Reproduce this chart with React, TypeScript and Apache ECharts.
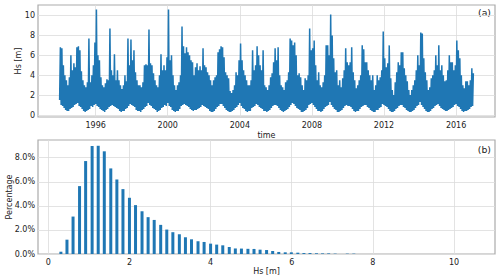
import { useEffect, useRef } from 'react';
import * as echarts from 'echarts';

// ---- Data ----
const startYear = 1994;

// monthly maximum Hs [m], one row per year (Jan..Dec), 1994..2016
const hsMonthlyMax = [
  [6.8, 6.7, 5.0, 4.0, 3.5, 3.0, 3.8, 6.0, 4.5, 5.2, 4.8, 6.8], // 1994
  [6.9, 6.5, 4.4, 3.5, 3.0, 2.8, 3.3, 7.7, 3.3, 4.0, 5.0, 7.3], // 1995
  [10.6, 6.0, 5.5, 3.8, 3.0, 2.8, 3.2, 3.6, 3.5, 8.7, 4.5, 4.0], // 1996
  [6.1, 3.5, 4.5, 3.5, 3.0, 2.6, 3.0, 4.0, 3.4, 7.7, 5.0, 7.6], // 1997
  [5.5, 6.5, 4.3, 3.5, 3.0, 3.0, 2.8, 3.3, 5.0, 5.1, 5.0, 8.6], // 1998
  [5.2, 5.0, 4.2, 3.5, 3.0, 2.8, 4.0, 6.1, 4.5, 5.0, 4.5, 5.8], // 1999
  [10.6, 5.5, 6.0, 4.0, 3.0, 2.5, 3.0, 3.3, 4.0, 8.9, 6.9, 6.2], // 2000
  [6.8, 6.3, 6.0, 5.5, 5.3, 4.0, 4.8, 5.2, 4.5, 4.9, 4.5, 6.7], // 2001
  [5.0, 4.8, 4.3, 4.0, 3.5, 3.0, 3.5, 3.8, 4.0, 6.3, 6.6, 6.9], // 2002
  [6.8, 5.8, 4.3, 4.0, 3.7, 2.4, 2.2, 2.5, 3.0, 4.3, 4.0, 5.5], // 2003
  [7.2, 5.5, 4.5, 4.0, 3.5, 3.0, 3.0, 3.5, 6.5, 4.5, 5.0, 6.9], // 2004
  [6.0, 5.0, 4.5, 6.5, 3.0, 2.8, 2.5, 3.0, 3.8, 4.2, 5.3, 6.7], // 2005
  [5.5, 6.8, 4.0, 3.0, 2.8, 2.5, 3.3, 3.5, 4.3, 7.7, 7.5, 7.0], // 2006
  [7.3, 6.0, 4.0, 4.2, 3.8, 3.0, 2.5, 3.7, 3.5, 4.0, 8.7, 6.5], // 2007
  [6.7, 7.5, 5.0, 3.5, 4.3, 3.0, 2.8, 3.3, 4.0, 7.0, 7.0, 6.0], // 2008
  [10.1, 8.0, 5.7, 4.3, 4.5, 3.0, 3.5, 2.8, 3.7, 4.5, 6.7, 5.3], // 2009
  [5.0, 5.3, 6.8, 4.3, 3.5, 2.7, 3.0, 3.5, 4.0, 7.0, 6.6, 5.3], // 2010
  [5.3, 4.5, 4.0, 3.5, 4.0, 2.5, 3.0, 4.0, 3.5, 3.8, 4.5, 8.4], // 2011
  [5.7, 4.8, 5.2, 7.0, 3.7, 2.5, 2.0, 3.3, 4.3, 5.3, 5.0, 6.3], // 2012
  [6.3, 4.7, 4.0, 3.4, 2.5, 2.0, 2.5, 3.0, 3.5, 4.5, 6.0, 5.0], // 2013
  [8.3, 8.2, 5.7, 4.3, 3.5, 2.5, 2.8, 3.7, 4.0, 4.5, 6.0, 5.0], // 2014
  [7.0, 4.5, 5.0, 4.0, 3.4, 3.5, 4.5, 6.0, 5.3, 5.3, 4.5, 5.0], // 2015
  [7.5, 6.5, 5.7, 4.0, 3.0, 2.7, 3.4, 3.4, 3.0, 3.5, 4.7, 4.2], // 2016
];

// monthly minimum Hs [m], one row per year (Jan..Dec), 1994..2016
const hsMonthlyMin = [
  [1.5, 1.0, 0.9, 0.7, 0.5, 0.4, 0.4, 0.6, 0.7, 0.8, 1.0, 1.1],
  [1.2, 0.9, 0.8, 0.6, 0.4, 0.3, 0.4, 0.5, 0.6, 0.9, 0.8, 1.0],
  [1.1, 0.9, 0.8, 0.6, 0.5, 0.4, 0.3, 0.5, 0.6, 0.8, 0.9, 1.0],
  [0.9, 0.8, 0.7, 0.6, 0.4, 0.3, 0.4, 0.4, 0.6, 0.7, 0.9, 1.1],
  [1.0, 0.9, 0.8, 0.5, 0.4, 0.4, 0.3, 0.5, 0.6, 0.8, 0.9, 1.2],
  [1.0, 0.9, 0.7, 0.6, 0.5, 0.3, 0.4, 0.5, 0.7, 0.8, 1.0, 0.9],
  [1.2, 0.9, 0.8, 0.5, 0.4, 0.3, 0.4, 0.4, 0.6, 0.9, 1.0, 1.1],
  [1.0, 0.9, 0.8, 0.6, 0.5, 0.4, 0.5, 0.5, 0.6, 0.7, 0.8, 1.0],
  [0.9, 0.8, 0.7, 0.6, 0.4, 0.3, 0.3, 0.4, 0.6, 0.8, 0.9, 1.1],
  [1.1, 0.9, 0.7, 0.5, 0.4, 0.3, 0.3, 0.4, 0.5, 0.7, 0.8, 1.0],
  [1.2, 0.9, 0.7, 0.6, 0.4, 0.3, 0.4, 0.4, 0.7, 0.8, 0.9, 1.1],
  [1.0, 0.8, 0.7, 0.6, 0.4, 0.4, 0.3, 0.4, 0.5, 0.7, 0.9, 1.0],
  [1.0, 0.9, 0.7, 0.5, 0.4, 0.3, 0.4, 0.5, 0.6, 0.8, 1.0, 1.2],
  [1.1, 0.9, 0.7, 0.6, 0.5, 0.3, 0.3, 0.4, 0.5, 0.7, 1.0, 1.1],
  [1.2, 1.0, 0.8, 0.6, 0.4, 0.4, 0.3, 0.4, 0.6, 0.8, 0.9, 1.0],
  [1.3, 1.0, 0.8, 0.6, 0.5, 0.3, 0.3, 0.4, 0.5, 0.7, 0.9, 1.0],
  [0.9, 0.9, 0.8, 0.6, 0.4, 0.3, 0.4, 0.4, 0.6, 0.8, 0.9, 1.0],
  [1.0, 0.8, 0.7, 0.5, 0.4, 0.3, 0.3, 0.5, 0.5, 0.7, 0.8, 1.1],
  [1.0, 0.9, 0.8, 0.6, 0.4, 0.3, 0.3, 0.4, 0.6, 0.7, 0.9, 1.0],
  [1.0, 0.8, 0.7, 0.5, 0.4, 0.3, 0.3, 0.4, 0.5, 0.7, 0.9, 1.0],
  [1.3, 1.0, 0.8, 0.6, 0.4, 0.3, 0.3, 0.4, 0.6, 0.7, 0.9, 1.0],
  [1.1, 0.9, 0.7, 0.6, 0.5, 0.4, 0.4, 0.5, 0.6, 0.7, 0.8, 1.0],
  [1.1, 0.9, 0.8, 0.6, 0.4, 0.3, 0.4, 0.4, 0.5, 0.6, 0.8, 0.9],
];

const yearTicks = [1996, 2000, 2004, 2008, 2012, 2016];
const hsTicks = [0, 2, 4, 6, 8, 10];

// histogram of Hs
const binCenters = [
  0.31, 0.46, 0.61, 0.77, 0.92, 1.08, 1.23, 1.38, 1.54, 1.69, 1.84, 2.0,
  2.15, 2.31, 2.46, 2.61, 2.77, 2.92, 3.07, 3.23, 3.38, 3.53, 3.69, 3.84,
  4.0, 4.15, 4.3, 4.46, 4.61, 4.76, 4.92, 5.07, 5.22, 5.38, 5.53, 5.68,
  5.84, 5.99, 6.15, 6.3, 6.45, 6.61, 6.76, 6.91, 7.07, 7.22, 7.37, 7.53,
];
const binPercent = [
  0.19, 1.19, 3.11, 5.64, 7.72, 8.97, 8.99, 8.53, 7.11, 6.19, 5.39, 4.67,
  4.06, 3.55, 3.06, 2.83, 2.42, 2.03, 1.81, 1.64, 1.39, 1.22, 1.06, 1.0,
  0.86, 0.78, 0.72, 0.58, 0.46, 0.45, 0.43, 0.42, 0.36, 0.33, 0.25, 0.17,
  0.14, 0.14, 0.11, 0.08, 0.08, 0.06, 0.05, 0.05, 0.03, 0, 0.03, 0.03,
];
const pctTicks = [0, 2, 4, 6, 8];
const hsBinTicks = [0, 2, 4, 6, 8, 10];

const FONT = '"DejaVu Sans", sans-serif';
const TEXT = '#222';
const GRID_LINE = '#dcdcdc';
const FRAME = '#ababab';
const BLUE = '#1f77b4';

export default function App() {
  const ref = useRef<HTMLDivElement>(null);

  useEffect(() => {
    if (!ref.current) return;
    const chart = echarts.init(ref.current, null, { renderer: 'svg' });

    const tsData: number[][] = [];
    hsMonthlyMax.forEach((row, yi) => {
      row.forEach((hi, m) => {
        tsData.push([startYear + yi + m / 12, hsMonthlyMin[yi][m]]);
        tsData.push([startYear + yi + (m + 0.5) / 12, hi]);
      });
    });
    const histData = binCenters.map((c, i) => [c, binPercent[i]]);

    const axisLabelBase = { fontSize: 8, color: TEXT, fontFamily: FONT };
    const nameStyle = { fontSize: 8, color: TEXT, fontFamily: FONT };
    const splitLine = { show: true, lineStyle: { color: GRID_LINE, width: 0.8 } };

    chart.setOption({
      animation: false,
      textStyle: { fontFamily: FONT },
      grid: [
        { left: 38, right: 5, top: 5, height: 112, show: true, borderColor: FRAME, borderWidth: 1.2, backgroundColor: 'transparent', containLabel: false, outerBoundsMode: 'none' },
        { left: 38, right: 5, top: 140, height: 114, show: true, borderColor: FRAME, borderWidth: 1.2, backgroundColor: 'transparent', containLabel: false, outerBoundsMode: 'none' },
      ],
      xAxis: [
        {
          type: 'value', gridIndex: 0, min: 1992.8, max: 2018.16,
          axisLine: { show: false },
          axisTick: { show: false, customValues: yearTicks },
          axisLabel: { ...axisLabelBase, margin: 4, customValues: yearTicks, formatter: (v: number) => String(v) },
          splitLine,
          name: 'time', nameLocation: 'middle', nameGap: 14, nameMoveOverlap: false, nameTextStyle: nameStyle,
        },
        {
          type: 'value', gridIndex: 1, min: -0.254, max: 11.01,
          axisLine: { show: false },
          axisTick: { show: false, customValues: hsBinTicks },
          axisLabel: { ...axisLabelBase, margin: 4, customValues: hsBinTicks, formatter: (v: number) => String(v) },
          splitLine,
          name: 'Hs [m]', nameLocation: 'middle', nameGap: 13, nameMoveOverlap: false, nameTextStyle: nameStyle,
        },
      ],
      yAxis: [
        {
          type: 'value', gridIndex: 0, min: -0.2, max: 11.06,
          axisLine: { show: false },
          axisTick: { show: false, customValues: hsTicks },
          axisLabel: { ...axisLabelBase, margin: 3, customValues: hsTicks, formatter: (v: number) => String(v) },
          splitLine,
          name: 'Hs [m]', nameLocation: 'middle', nameGap: 16, nameRotate: 90, nameMoveOverlap: false, nameTextStyle: nameStyle,
        },
        {
          type: 'value', gridIndex: 1, min: 0, max: 9.47,
          axisLine: { show: false },
          axisTick: { show: false, customValues: pctTicks },
          axisLabel: { ...axisLabelBase, margin: 3, customValues: pctTicks, formatter: (v: number) => v.toFixed(1) + '%' },
          splitLine,
          name: 'Percentage', nameLocation: 'middle', nameGap: 25, nameRotate: 90, nameMoveOverlap: false, nameTextStyle: nameStyle,
        },
      ],
      series: [
        {
          type: 'line', xAxisIndex: 0, yAxisIndex: 0, data: tsData,
          showSymbol: false, symbol: 'none', silent: true,
          lineStyle: { color: BLUE, width: 1.5, join: 'bevel' },
        },
        {
          type: 'bar', xAxisIndex: 1, yAxisIndex: 1, data: histData,
          barWidth: 3, silent: true,
          itemStyle: { color: BLUE },
        },
      ],
      graphic: [
        { type: 'text', right: 9, top: 8, style: { text: '(a)', font: '9.3px "DejaVu Sans"', fill: TEXT } },
        { type: 'text', right: 9, top: 145, style: { text: '(b)', font: '9.3px "DejaVu Sans"', fill: TEXT } },
      ],
    });

    return () => chart.dispose();
  }, []);

  return (
    <div
      ref={ref}
      style={{ position: 'fixed', left: 0, top: 0, width: 500, height: 280, background: '#fff' }}
    />
  );
}
